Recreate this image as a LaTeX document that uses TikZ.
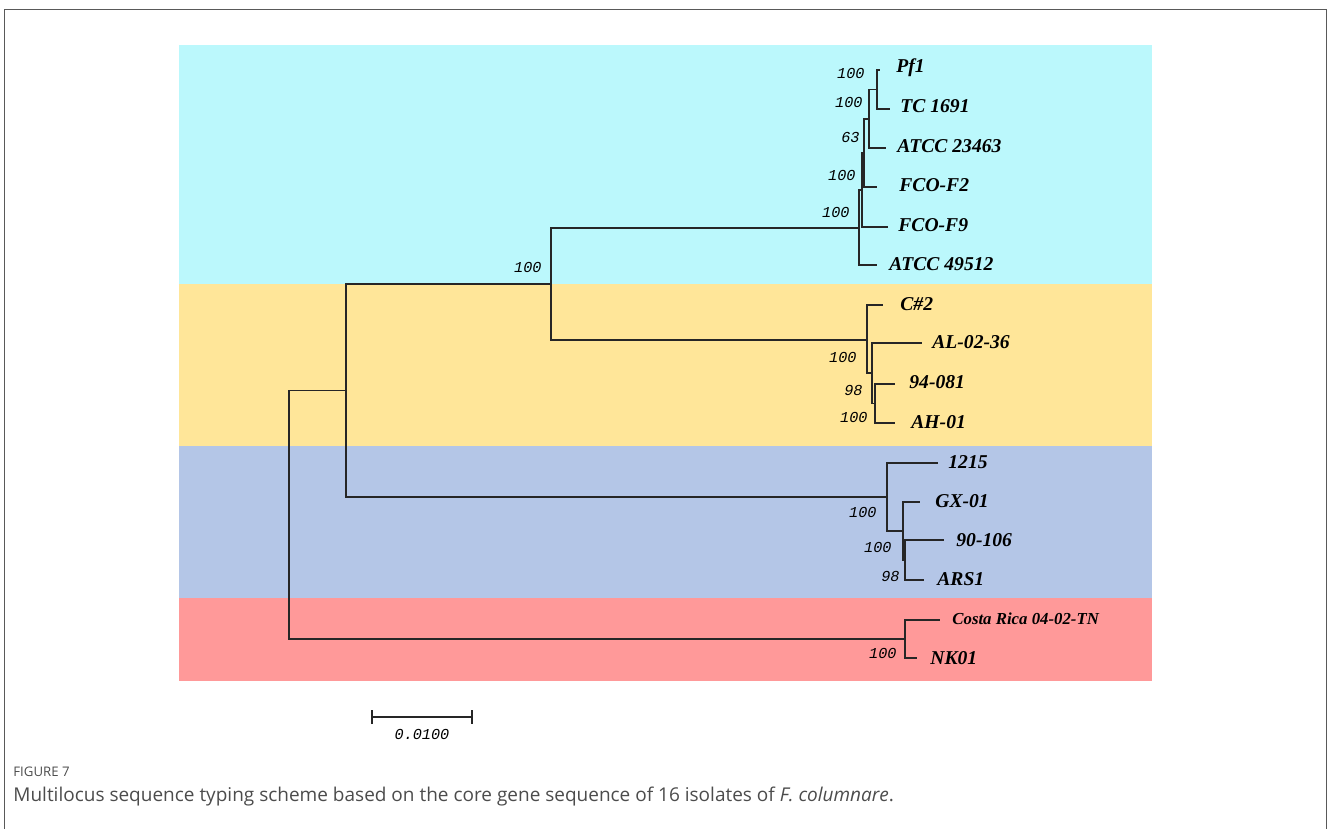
\documentclass[tikz,border=0pt]{standalone}
\usepackage{fontspec}
\setmainfont{Liberation Serif}
\newfontfamily\capfont{Open Sans}
\newfontfamily\bootfont{Liberation Mono}
\usetikzlibrary{arrows.meta}
\definecolor{cladecyan}{HTML}{BBF8FC}
\definecolor{cladegold}{HTML}{FFE699}
\definecolor{cladeblue}{HTML}{B4C6E7}
\definecolor{cladered}{HTML}{FF9999}
\begin{document}
\begin{tikzpicture}[x=0.5pt,y=-0.5pt,
    branch/.style={draw=black!85,line width=0.7pt},
    taxon/.style={anchor=west,inner sep=0pt,font=\fontsize{9.8}{11}\selectfont\bfseries\itshape},
    boot/.style={anchor=east,inner sep=0pt,font=\fontsize{7.6}{8}\selectfont\bootfont\itshape},
    caption/.style={anchor=west,inner sep=0pt,text=black!70}]
  \useasboundingbox (0,0) rectangle (1328,829);
  \draw[black!65,line width=0.8pt] (4.5,829) -- (4.5,9.5) -- (1326.5,9.5) -- (1326.5,829);
  \fill[cladecyan] (179,45) rectangle (1152,284);
  \fill[cladegold] (179,284) rectangle (1152,446);
  \fill[cladeblue] (179,446) rectangle (1152,598);
  \fill[cladered] (179,598) rectangle (1152,681);
  % tips
  \coordinate (pf1) at (880,70);
  \coordinate (tc) at (890,109);
  \coordinate (atcca) at (886,148);
  \coordinate (fcotwo) at (877,187);
  \coordinate (fconine) at (888,227);
  \coordinate (atccb) at (877,265);
  \coordinate (ctwo) at (883,305);
  \coordinate (al) at (922,343);
  \coordinate (ninefour) at (895,384);
  \coordinate (ah) at (895,423);
  \coordinate (twelve) at (938,463);
  \coordinate (gx) at (920,502);
  \coordinate (ninety) at (944,540);
  \coordinate (ars) at (924,580);
  \coordinate (costa) at (940,620);
  \coordinate (nk) at (917,658);
  % internal nodes
  \coordinate (n1) at (877,89.5);
  \coordinate (n2) at (869,119);
  \coordinate (n3) at (864,153);
  \coordinate (n4) at (862,190);
  \coordinate (n5) at (859,228);
  \coordinate (m1) at (875,403.5);
  \coordinate (m2) at (872,373);
  \coordinate (m3) at (867,340);
  \coordinate (b1) at (905,560);
  \coordinate (b2) at (903,531);
  \coordinate (b3) at (887,497);
  \coordinate (r1) at (905,639);
  \coordinate (u1) at (551,284);
  \coordinate (u2) at (346,390.5);
  \coordinate (root) at (289,515);
  % branches
  \draw[branch] (n1) |- (pf1) (n1) |- (tc);
  \draw[branch] (n2) |- (n1) (n2) |- (atcca);
  \draw[branch] (n3) |- (n2) (n3) |- (fcotwo);
  \draw[branch] (n4) |- (n3) (n4) |- (fconine);
  \draw[branch] (n5) |- (n4) (n5) |- (atccb);
  \draw[branch] (m1) |- (ninefour) (m1) |- (ah);
  \draw[branch] (m2) |- (al) (m2) |- (m1);
  \draw[branch] (m3) |- (ctwo) (m3) |- (m2);
  \draw[branch] (b1) |- (ninety) (b1) |- (ars);
  \draw[branch] (b2) |- (gx) (b2) |- (b1);
  \draw[branch] (b3) |- (twelve) (b3) |- (b2);
  \draw[branch] (r1) |- (costa) (r1) |- (nk);
  \draw[branch] (u1) |- (n5) (u1) |- (m3);
  \draw[branch] (u2) |- (u1) (u2) |- (b3);
  \draw[branch] (root) |- (u2) (root) |- (r1);
  % isolate names
  \node[taxon] (lpf1) at (896,68) {Pf1};
  \node[taxon] (ltc) at (900,106) {TC 1691};
  \node[taxon] (latcca) at (897,146) {ATCC 23463};
  \node[taxon] (lfcotwo) at (899,185) {FCO-F2};
  \node[taxon] (lfconine) at (898,225) {FCO-F9};
  \node[taxon] (latccb) at (889,264) {ATCC 49512};
  \node[taxon] (lctwo) at (900,304) {C\#2};
  \node[taxon] (lal) at (932,342) {AL-02-36};
  \node[taxon] (lninefour) at (909,382) {94-081};
  \node[taxon] (lah) at (911,422) {AH-01};
  \node[taxon] (ltwelve) at (948,462) {1215};
  \node[taxon] (lgx) at (935,501) {GX-01};
  \node[taxon] (lninety) at (956,540) {90-106};
  \node[taxon] (lars) at (937,579) {ARS1};
  \node[taxon,font=\fontsize{8.4}{10}\selectfont\bfseries\itshape] (lcosta) at (952,619) {Costa Rica 04-02-TN};
  \node[taxon] (lnk) at (930,658) {NK01};
  % bootstrap values
  \foreach \x/\y/\v [count=\i] in {865/73/100,863/102/100,860/137/63,856/175/100,850/212/100,
      542/267/100,857/357/100,863/390/98,868/417/100,
      877/512/100,892/547/100,900/576/98,897/653/100}
    \node[boot] (bs\i) at (\x,\y) {\v};
  % scale bar
  \coordinate (barl) at (371,717);
  \coordinate (barr) at (473,717);
  \draw[black!85,line width=0.8pt,{Bar[width=7pt]}-{Bar[width=7pt]}] (barl) -- (barr);
  \node[boot,anchor=center] (barlabel) at (422,734) {0.0100};
  % caption
  \node[caption,font=\capfont\fontsize{6.6}{7}\selectfont] (fignum) at (13,772) {FIGURE 7};
  \node[caption,font=\capfont\fontsize{9.5}{11}\selectfont] (figcap) at (13,797)
    {Multilocus sequence typing scheme based on the core gene sequence of 16 isolates of \textit{F. columnare}.};
\end{tikzpicture}
\end{document}
